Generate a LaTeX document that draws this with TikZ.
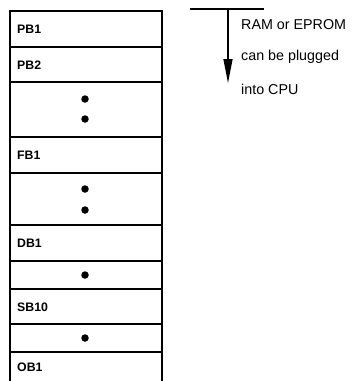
\documentclass[tikz,border=0pt]{standalone}
\usepackage{fontspec}
\setmainfont{Liberation Sans}
\usetikzlibrary{arrows.meta}
\begin{document}
\begin{tikzpicture}[x=1pt,y=-1pt,
  boxline/.style={line width=2pt},
  divline/.style={line width=1.5pt},
  lbl/.style={anchor=west,inner sep=0pt,font=\fontsize{12.3}{12}\selectfont\bfseries},
  note/.style={anchor=west,inner sep=0pt,font=\fontsize{14.3}{14}\selectfont},
  dotmark/.style={circle,fill=black,inner sep=0pt,minimum size=7.5pt}]
\useasboundingbox (0,0) rectangle (352,381);
% frame
\draw[boxline] (10,381) -- (10,11) -- (162,11) -- (162,381);
% dividers
\foreach \y in {47,82,137,173,225,261,289,324,352}
  \draw[divline] (10,\y) -- (162,\y);
% labels
\node[lbl] (pb1) at (17,29) {PB1};
\node[lbl] (pb2) at (17,65) {PB2};
\node[lbl] (fb1) at (17,155) {FB1};
\node[lbl] (db1) at (17,243) {DB1};
\node[lbl] (sb10) at (17,307) {SB10};
\node[lbl] (ob1) at (17,367) {OB1};
% dots
\node[dotmark] (d1) at (85,99) {};
\node[dotmark] (d2) at (85,119) {};
\node[dotmark] (d3) at (85,189) {};
\node[dotmark] (d4) at (85,210) {};
\node[dotmark] (d5) at (85,275) {};
\node[dotmark] (d6) at (85,338) {};
% arrow
\coordinate (hl) at (190,9);
\coordinate (hr) at (264,9);
\coordinate (vt) at (228,9);
\coordinate (vb) at (228,83);
\draw[line width=1.5pt] (hl) -- (hr);
\draw[line width=1.5pt,-{Triangle[length=24pt,width=9pt]}] (vt) -- (vb);
% note
\node[note] (n1) at (241,25) {RAM or EPROM};
\node[note] (n2) at (241,57) {can be plugged};
\node[note] (n3) at (241,89) {into CPU};
\end{tikzpicture}
\end{document}
